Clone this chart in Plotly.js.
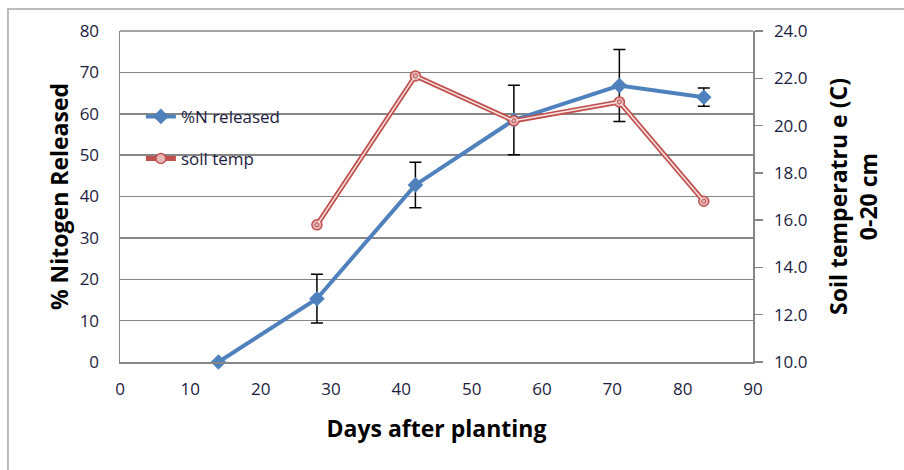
<!DOCTYPE html>
<html>
<head>
<meta charset="utf-8">
<script src="https://cdn.plot.ly/plotly-3.0.1.min.js"></script>
<style>
html,body{margin:0;padding:0;background:#fff;}
#chart{width:904px;height:470px;}
</style>
</head>
<body>
<div id="chart"></div>
<script>
// Data
const days = [14, 28, 42, 56, 71, 83];
const nReleased = [0, 15.3, 42.8, 58.5, 66.8, 64.0];
const nError = [null, 5.9, 5.5, 8.4, 8.7, 2.2];
const tempDays = [28, 42, 56, 71, 83];
const soilTemp = [15.8, 22.1, 20.2, 21.0, 16.8];
const seriesNames = ['%N released', 'soil temp'];
const xTitle = 'Days after planting';
const yTitle = '% Nitogen Released';
const y2Title = 'Soil temperatru e (C)<br>0-20 cm';

const blue = '#4F81BD';
const red = '#C0504D';
const fontFam = '"Open Sans", "Noto Sans", sans-serif';
const tickFont = {family: fontFam, size: 17, color: '#1C1C40'};
const titleFont = {family: fontFam, size: 23, color: '#000', weight: 'bold'};

const traces = [
  {
    x: days, y: nReleased, name: seriesNames[0], type: 'scatter', mode: 'lines+markers',
    line: {color: blue, width: 4},
    marker: {symbol: 'diamond', size: 12, color: blue},
    error_y: {type: 'data', array: nError, visible: true, color: '#000', thickness: 1.5, width: 6},
    cliponaxis: false, legendgroup: 'a'
  },
  {
    x: tempDays, y: soilTemp, name: seriesNames[1], type: 'scatter', mode: 'lines+markers',
    yaxis: 'y2',
    line: {color: red, width: 5},
    marker: {symbol: 'circle', size: 10, color: '#E6B9B8', line: {color: red, width: 1.5}},
    cliponaxis: false, legendgroup: 'b'
  },
  {
    x: tempDays, y: soilTemp, name: seriesNames[1], type: 'scatter', mode: 'lines+markers',
    yaxis: 'y2', showlegend: false, hoverinfo: 'skip',
    line: {color: '#F7E4E3', width: 1.5},
    marker: {symbol: 'circle', size: 4, color: '#E6B9B8', line: {color: red, width: 1}},
    cliponaxis: false, legendgroup: 'b'
  }
];

const layout = {
  width: 904, height: 470,
  margin: {l: 120, r: 151, t: 31, b: 108},
  paper_bgcolor: '#fff', plot_bgcolor: '#fff',
  showlegend: true,
  legend: {
    x: 0.033, y: 0.795, xanchor: 'left', yanchor: 'top',
    bgcolor: 'rgba(0,0,0,0)', borderwidth: 0,
    font: {family: fontFam, size: 17, color: '#1C1C40'},
    tracegroupgap: 17
  },
  xaxis: {
    range: [0, 90], tickvals: [0,10,20,30,40,50,60,70,80,90],
    showgrid: false, zeroline: false,
    showline: true, linecolor: '#868686', linewidth: 1.5,
    ticks: 'outside', ticklen: 11, tickcolor: 'rgba(0,0,0,0)',
    tickfont: tickFont,
    title: {text: xTitle, font: titleFont, standoff: 22}
  },
  yaxis: {
    range: [0, 80], dtick: 10,
    showgrid: true, gridcolor: '#868686', gridwidth: 1.5,
    zeroline: false, showline: true, linecolor: '#868686', linewidth: 1.5,
    ticks: 'outside', ticklen: 16, tickcolor: 'rgba(0,0,0,0)',
    tickfont: tickFont,
    title: {text: yTitle, font: titleFont, standoff: 4}
  },
  yaxis2: {
    range: [10, 24], dtick: 2, tickformat: '.1f',
    overlaying: 'y', side: 'right',
    showgrid: false, zeroline: false,
    showline: true, linecolor: '#868686', linewidth: 1.5,
    ticks: 'outside', ticklen: 8, tickcolor: '#868686', tickwidth: 1.5,
    ticklabelstandoff: 8,
    tickfont: tickFont,
    title: {text: y2Title, font: titleFont, standoff: 24}
  },
  shapes: [
    {type: 'rect', xref: 'paper', yref: 'paper', x0: -0.177, x1: 1.26, y0: -0.36, y1: 1.0665,
     line: {color: '#A6A6A6', width: 1.5}, fillcolor: 'rgba(0,0,0,0)', layer: 'below'},
    {type: 'line', xref: 'paper', yref: 'paper', x0: 0, x1: 1, y0: 1, y1: 1,
     line: {color: '#868686', width: 1.5}}
  ]
};

Plotly.newPlot('chart', traces, layout, {displayModeBar: false, staticPlot: true});
</script>
</body>
</html>
